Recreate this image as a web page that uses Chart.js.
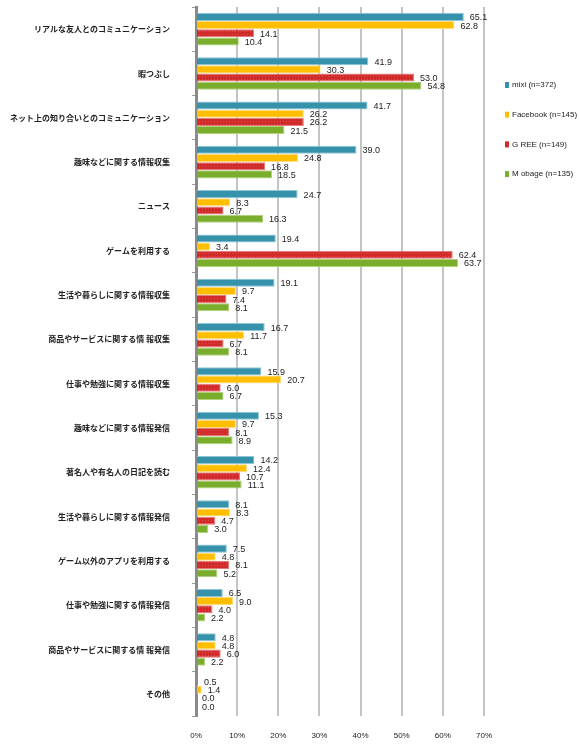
<!DOCTYPE html>
<html>
<head>
<meta charset="utf-8">
<script src="https://cdn.jsdelivr.net/npm/chart.js@4"></script>
<style>
  html, body { margin: 0; padding: 0; background: #fff; }
  #wrap { width: 580px; height: 746px; }
</style>
</head>
<body>
<div id="wrap"><canvas id="usageChart"></canvas></div>
<script>
// categories (top to bottom)
const categories = [
    'リアルな友人とのコミュニケーション',
    '暇つぶし',
    'ネット上の知り合いとのコミュニケーション',
    '趣味などに関する情報収集',
    'ニュース',
    'ゲームを利用する',
    '生活や暮らしに関する情報収集',
    '商品やサービスに関する情 報収集',
    '仕事や勉強に関する情報収集',
    '趣味などに関する情報発信',
    '著名人や有名人の日記を読む',
    '生活や暮らしに関する情報発信',
    'ゲーム以外のアプリを利用する',
    '仕事や勉強に関する情報発信',
    '商品やサービスに関する情 報発信',
    'その他'
];

// series values (%)
const mixiValues     = [65.1, 41.9, 41.7, 39.0, 24.7, 19.4, 19.1, 16.7, 15.9, 15.3, 14.2, 8.1, 7.5, 6.5, 4.8, 0.5];
const facebookValues = [62.8, 30.3, 26.2, 24.8, 8.3, 3.4, 9.7, 11.7, 20.7, 9.7, 12.4, 8.3, 4.8, 9.0, 4.8, 1.4];
const greeValues     = [14.1, 53.0, 26.2, 16.8, 6.7, 62.4, 7.4, 6.7, 6.0, 8.1, 10.7, 4.7, 8.1, 4.0, 6.0, 0.0];
const mobageValues   = [10.4, 54.8, 21.5, 18.5, 16.3, 63.7, 8.1, 8.1, 6.7, 8.9, 11.1, 3.0, 5.2, 2.2, 2.2, 0.0];

const seriesLabels = ['mixi (n=372)', 'Facebook (n=145)', 'G REE (n=149)', 'M obage (n=135)'];
const xTicks = [0, 10, 20, 30, 40, 50, 60, 70];

const fills   = ['#3691ab', '#ffbe00', '#d12a2a', '#7aad2c'];
const borders = ['#8fc6d6', '#ffdd80', '#e47a7a', '#b0d27a'];

// small dotted texture like the original's red bars
function dotted(base, dot) {
    const c = document.createElement('canvas');
    c.width = 3; c.height = 3;
    const g = c.getContext('2d');
    g.fillStyle = base;
    g.fillRect(0, 0, 3, 3);
    g.fillStyle = dot;
    g.fillRect(1, 1, 1, 1);
    return g.createPattern(c, 'repeat');
}

// value labels at bar ends
const valueLabels = {
    id: 'valueLabels',
    afterDatasetsDraw(chart) {
        const ctx = chart.ctx;
        ctx.save();
        ctx.font = '9px "Liberation Sans", Arial, sans-serif';
        ctx.fillStyle = '#222';
        ctx.textBaseline = 'middle';
        ctx.textAlign = 'left';
        chart.data.datasets.forEach((ds, i) => {
            chart.getDatasetMeta(i).data.forEach((bar, j) => {
                ctx.fillText(ds.data[j].toFixed(1), bar.x + 6, bar.y + 1);
            });
        });
        ctx.restore();
    }
};

// legend on the right
const sideLegend = {
    id: 'sideLegend',
    afterDraw(chart) {
        const ctx = chart.ctx;
        ctx.save();
        ctx.font = '8px "Liberation Sans", Arial, sans-serif';
        ctx.textBaseline = 'middle';
        chart.data.datasets.forEach((ds, i) => {
            const y = 85 + i * 29.7;
            ctx.fillStyle = fills[i];
            ctx.fillRect(505, y - 3, 4, 6);
            ctx.fillStyle = '#222';
            ctx.fillText(ds.label, 512, y);
        });
        ctx.restore();
    }
};

window.onload = function() {
    const patternFills = fills.map((f, i) => i === 2 ? dotted(f, '#dc4a4a') : f);

    const datasets = [mixiValues, facebookValues, greeValues, mobageValues].map((vals, i) => ({
        label: seriesLabels[i],
        data: vals,
        backgroundColor: patternFills[i],
        borderColor: borders[i],
        borderWidth: 1,
        borderSkipped: 'left',
        barPercentage: 0.98,
        categoryPercentage: 0.74
    }));

    const config = {
        type: 'bar',
        data: { labels: categories, datasets: datasets },
        options: {
            indexAxis: 'y',
            responsive: true,
            maintainAspectRatio: false,
            animation: false,
            layout: { padding: { top: 7, right: 96, bottom: 0, left: 0 } },
            plugins: {
                legend: { display: false },
                tooltip: { enabled: false }
            },
            scales: {
                x: {
                    min: 0,
                    max: 70,
                    afterBuildTicks(scale) { scale.ticks = xTicks.map(v => ({ value: v })); },
                    afterFit(scale) { scale.height = 30; },
                    ticks: {
                        callback: v => v + '%',
                        font: { size: 8, family: '"Liberation Sans", Arial, sans-serif' },
                        color: '#222',
                        padding: 15,
                        maxRotation: 0
                    },
                    grid: { color: '#c4c4c4', lineWidth: 2, drawTicks: false },
                    border: { display: false }
                },
                y: {
                    afterFit(scale) {
                        scale.width = 196;
                        scale.paddingTop = 0;
                        scale.paddingBottom = 0;
                    },
                    ticks: {
                        font: { size: 8, family: '"Noto Sans CJK JP", sans-serif', weight: 'bold' },
                        color: '#222',
                        padding: 22,
                        autoSkip: false
                    },
                    grid: { drawOnChartArea: false, color: '#999', tickLength: 4, lineWidth: 1 },
                    border: { display: true, color: '#8a8a8a', width: 3 }
                }
            }
        },
        plugins: [valueLabels, sideLegend]
    };

    const ctx = document.getElementById('usageChart').getContext('2d');
    new Chart(ctx, config);
};
</script>
</body>
</html>
